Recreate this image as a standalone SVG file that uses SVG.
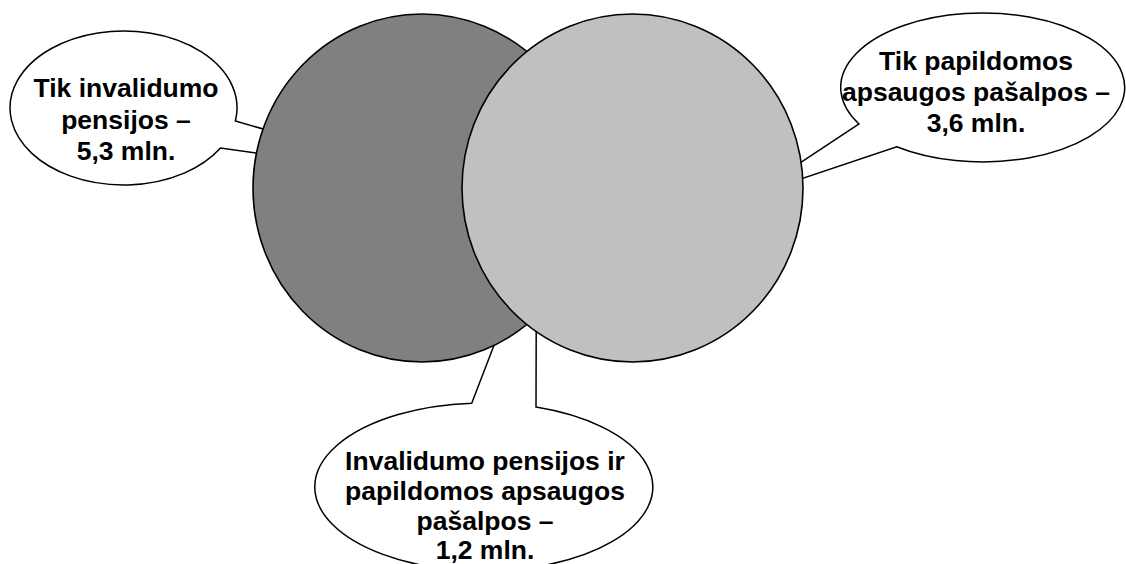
<svg xmlns="http://www.w3.org/2000/svg" width="1126" height="564" viewBox="0 0 1126 564">
  <style>
    .callout { fill: #ffffff; stroke: #000000; stroke-width: 1.5; stroke-linejoin: miter; }
    .set { stroke: #000000; stroke-width: 1.6; }
    .lbl { font-family: "Liberation Sans", Arial, sans-serif; font-weight: bold; font-size: 26.5px; fill: #000000; text-anchor: middle; }
  </style>
  <rect width="1126" height="564" fill="#ffffff"/>
  <g id="callout-left">
    <path class="callout" d="M 437 179 L 235.4 121 A 113.5 77 0 1 0 220.5 148 Z"/>
    <text class="lbl" x="126" y="97">Tik invalidumo</text>
    <text class="lbl" x="126" y="128.5">pensijos –</text>
    <text class="lbl" x="126" y="160">5,3 mln.</text>
  </g>
  <g id="callout-right">
    <path class="callout" d="M 750 196 L 859 124 A 142 74.5 0 1 1 896.7 146.7 Z"/>
    <text class="lbl" x="976" y="69.5">Tik papildomos</text>
    <text class="lbl" x="976" y="101">apsaugos pašalpos –</text>
    <text class="lbl" x="976" y="131.5">3,6 mln.</text>
  </g>
  <g id="callout-bottom">
    <path class="callout" d="M 536.5 235 L 471.7 403.2 A 169 84 0 1 0 536 407.1 Z"/>
    <text class="lbl" x="485" y="470">Invalidumo pensijos ir</text>
    <text class="lbl" x="485" y="500">papildomos apsaugos</text>
    <text class="lbl" x="485" y="530">pašalpos –</text>
    <text class="lbl" x="485" y="559">1,2 mln.</text>
  </g>
  <g id="set-invalidumo">
    <ellipse class="set" cx="422" cy="188" rx="169" ry="174" fill="#808080"/>
  </g>
  <g id="set-papildomos">
    <ellipse class="set" cx="632.5" cy="188" rx="170.5" ry="174" fill="#c0c0c0"/>
  </g>
</svg>
